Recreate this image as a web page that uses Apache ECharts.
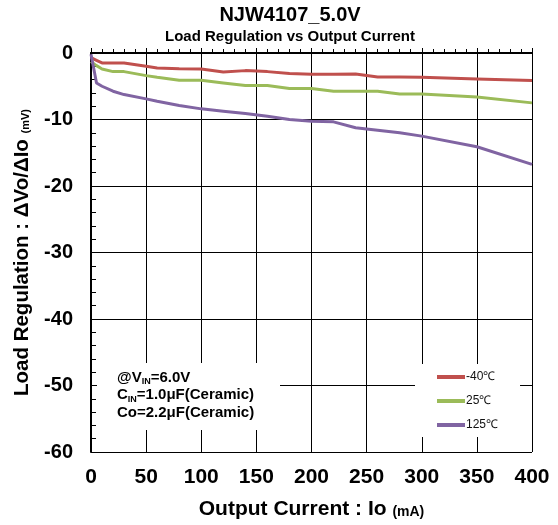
<!DOCTYPE html>
<html><head><meta charset="utf-8">
<script src="https://cdn.jsdelivr.net/npm/echarts@6/dist/echarts.min.js"></script>
<style>html,body{margin:0;padding:0;background:#fff}#c{width:558px;height:525px}</style>
</head><body><div id="c"></div>
<script>
var currents = [0, 5, 10, 20, 30, 50, 60, 80, 100, 120, 140, 160, 180, 200, 220, 240, 260, 280, 300, 350, 400];
var regMinus40 = [-0.7, -1.1, -1.5, -1.5, -1.5, -2.0, -2.25, -2.35, -2.4, -2.85, -2.65, -2.8, -3.1, -3.2, -3.2, -3.15, -3.6, -3.6, -3.65, -3.9, -4.15];
var reg25 = [-1.3, -1.9, -2.4, -2.8, -2.8, -3.4, -3.65, -4.1, -4.1, -4.5, -4.9, -4.9, -5.35, -5.35, -5.75, -5.75, -5.75, -6.15, -6.15, -6.6, -7.5];
var reg125 = [-0.2, -4.5, -5.0, -5.75, -6.25, -6.9, -7.25, -7.9, -8.4, -8.75, -9.1, -9.5, -10.0, -10.25, -10.35, -11.25, -11.6, -12.0, -12.5, -14.1, -16.75];
var seriesNames = ['-40℃', '25℃', '125℃'];
var seriesColors = ['#c0504d', '#9bbb59', '#8064a2'];
var xTicks = [0, 50, 100, 150, 200, 250, 300, 350, 400];
var yTicks = [0, -10, -20, -30, -40, -50, -60];

function pairs(xs, ys) { return xs.map(function (x, i) { return [x, ys[i]]; }); }
var F = '"Liberation Sans", Arial, sans-serif';
var chart = echarts.init(document.getElementById('c'));
var allY = [regMinus40, reg25, reg125];
chart.setOption({
  animation: false,
  backgroundColor: '#fff',
  textStyle: { fontFamily: F },
  grid: { left: 91, right: 26, top: 53, bottom: 73, containLabel: false },
  xAxis: {
    type: 'value', min: xTicks[0], max: xTicks[xTicks.length - 1], interval: 50,
    name: 'Output Current : Io {u|(mA)}', nameLocation: 'middle', nameGap: 47,
    nameTextStyle: { color: '#000', fontSize: 21, fontWeight: 'bold', fontFamily: F,
      rich: { u: { fontSize: 14, fontWeight: 'bold', fontFamily: F, color: '#000', verticalAlign: 'bottom', padding: [0,0,1,0] } } },
    axisLine: { show: true, lineStyle: { color: '#000', width: 2 } },
    axisTick: { show: true, inside: true, length: 5, lineStyle: { color: '#000' } },
    minorTick: { show: true, splitNumber: 5, length: 4, lineStyle: { color: '#000' } },
    splitLine: { show: true, lineStyle: { color: '#000', width: 1 } },
    axisLabel: { color: '#000', fontSize: 21, fontWeight: 'bold', fontFamily: F, margin: 15 }
  },
  yAxis: {
    type: 'value', min: yTicks[yTicks.length - 1], max: yTicks[0], interval: 10,
    name: 'Load Regulation : ΔVo/ΔIo {u|(mV)}', nameLocation: 'middle', nameGap: 57,
    nameTextStyle: { color: '#000', fontSize: 20.5, fontWeight: 'bold', fontFamily: F,
      rich: { u: { fontSize: 11, fontWeight: 'bold', fontFamily: F, color: '#000', verticalAlign: 'bottom', padding: [0,0,2,0] } } },
    axisLine: { show: true, onZero: false, lineStyle: { color: '#000', width: 2 } },
    axisTick: { show: true, inside: true, length: 5, lineStyle: { color: '#000' } },
    minorTick: { show: true, splitNumber: 5, length: 5, lineStyle: { color: '#000' } },
    splitLine: { show: true, lineStyle: { color: '#000', width: 1 } },
    axisLabel: { color: '#000', fontSize: 20, fontWeight: 'bold', fontFamily: F, margin: 18 }
  },
  legend: {
    orient: 'vertical', left: 415, top: 364,
    backgroundColor: '#fff', padding: [7, 22, 6, 22], itemGap: 12,
    itemWidth: 28, itemHeight: 4, icon: 'rect',
    textStyle: { color: '#111', fontSize: 12, fontFamily: F, padding: [3, 0, 0, -4] },
    data: seriesNames
  },
  graphic: [
    { type: 'text', style: { text: 'NJW4107_5.0V', x: 290, y: 15, align: 'center', verticalAlign: 'middle', font: 'bold 20px ' + F, fill: '#000' } },
    { type: 'text', style: { text: 'Load Regulation vs Output Current', x: 290, y: 36.5, align: 'center', verticalAlign: 'middle', font: 'bold 15px ' + F, fill: '#000' } },
    { type: 'rect', shape: { x: 97, y: 363, width: 183, height: 67 }, style: { fill: '#fff' }, z: 10 },
    { type: 'text', z: 11, style: {
        x: 117, y: 369,
        text: '@V{s|IN}=6.0V\nC{s|IN}=1.0μF(Ceramic)\nCo=2.2μF(Ceramic)',
        font: 'bold 15px ' + F, fill: '#000', lineHeight: 17.5,
        rich: { s: { fontSize: 9, fontWeight: 'bold', fontFamily: F, fill: '#000', verticalAlign: 'bottom', lineHeight: 10 } }
      } }
  ],
  series: allY.map(function (ys, i) {
    return { name: seriesNames[i], type: 'line', data: pairs(currents, ys), showSymbol: false,
      lineStyle: { color: seriesColors[i], width: 3 }, itemStyle: { color: seriesColors[i] }, z: 3 };
  })
});
</script></body></html>
